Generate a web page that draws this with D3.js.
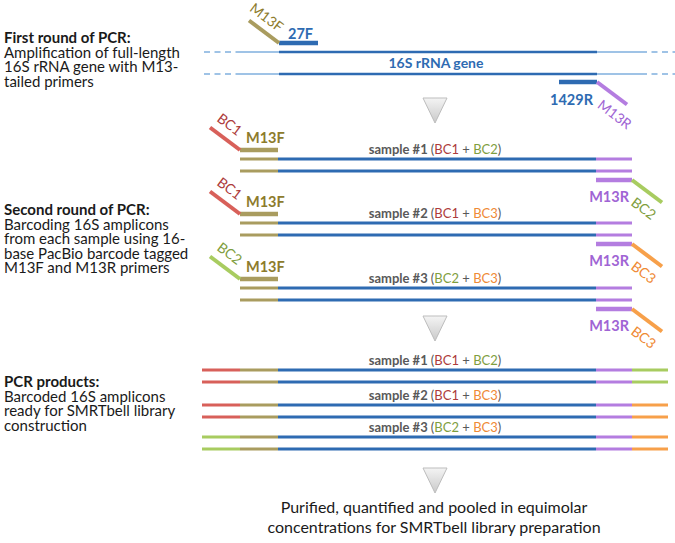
<!DOCTYPE html>
<html><head><meta charset="utf-8">
<script src="https://cdn.jsdelivr.net/npm/d3@7"></script>
<style>body{margin:0;background:#fff}svg{display:block}</style>
</head><body>
<script>
// ---------- data ----------
const stepTitles = ["First round of PCR:", "Second round of PCR:", "PCR products:"];
const stepTexts = [
  ["Amplification of full-length", "16S rRNA gene with M13-", "tailed primers"],
  ["Barcoding 16S amplicons", "from each sample using 16-", "base PacBio barcode tagged", "M13F and M13R primers"],
  ["Barcoded 16S amplicons", "ready for SMRTbell library", "construction"]
];
const samples = ["sample #1", "sample #2", "sample #3"];
const fwdBarcodes = ["BC1", "BC1", "BC2"];
const revBarcodes = ["BC2", "BC3", "BC3"];
const geneLabel = "16S rRNA gene";
const fwdPrimer = "27F", revPrimer = "1429R";
const fwdTail = "M13F", revTail = "M13R";
const footerLines = ["Purified, quantified and pooled in equimolar", "concentrations for SMRTbell library preparation"];
const bounds = ["bcStart", "m13FStart", "geneStart", "geneEnd", "m13REnd", "bcEnd"];

// ---------- styles ----------
const C = {
  blue: "#2e6bb2", lblue: "#9fc3e6", olive: "#a99c5f", oliveT: "#8d7b2c",
  purple: "#b47de0", purpleT: "#a064d4",
  BC1: "#d8605a", BC2: "#a8cc60", BC3: "#f7a04a",
  BC1T: "#ad3b3b", BC2T: "#7f9e3e", BC3T: "#ef8a35", grey: "#595959"
};
const FONT = "Lato, 'Open Sans', sans-serif";
const W = 675, H = 543;
const svg = d3.select("body").append("svg").attr("width", W).attr("height", H)
  .style("font-family", FONT);

const defs = svg.append("defs");
const g = defs.append("linearGradient").attr("id", "tri").attr("x1", 0).attr("y1", 0).attr("x2", 0).attr("y2", 1);
g.append("stop").attr("offset", "0%").attr("stop-color", "#f4f4f4");
g.append("stop").attr("offset", "100%").attr("stop-color", "#c9c9c9");

// x positions of segment boundaries
const x = d3.scaleOrdinal().domain(bounds).range([202, 240, 278, 596, 632, 668]);

function seg(x1, x2, y, color, w, dash) {
  const l = svg.append("line").attr("x1", x1).attr("x2", x2).attr("y1", y).attr("y2", y)
    .attr("stroke", color).attr("stroke-width", w);
  if (dash) l.attr("stroke-dasharray", dash);
  return l;
}
function tail(x0, y0, dir, color) {
  svg.append("line").attr("x1", x0).attr("y1", y0)
    .attr("x2", x0 + dir * 30).attr("y2", y0 + dir * 22.5)
    .attr("stroke", color).attr("stroke-width", 4);
}
function rotLabel(cx, cy, text, color, size) {
  svg.append("text").attr("transform", `translate(${cx},${cy}) rotate(37)`)
    .attr("text-anchor", "middle").attr("dominant-baseline", "central")
    .attr("font-size", size || 14).attr("fill", color).text(text);
}
function triangle(cx, ty) {
  svg.append("path").attr("d", `M${cx - 12},${ty}L${cx + 12},${ty}L${cx},${ty + 25}Z`)
    .attr("fill", "url(#tri)").attr("stroke", "#bdbdbd").attr("stroke-width", 1);
}
function sampleLabel(cx, y, i) {
  const t = svg.append("text").attr("x", cx).attr("y", y).attr("text-anchor", "middle")
    .attr("font-size", 13).attr("fill", C.grey);
  t.append("tspan").attr("font-weight", "bold").text(samples[i] + " ");
  t.append("tspan").text("(");
  t.append("tspan").attr("fill", C[fwdBarcodes[i] + "T"]).text(fwdBarcodes[i]);
  t.append("tspan").text(" + ");
  t.append("tspan").attr("fill", C[revBarcodes[i] + "T"]).text(revBarcodes[i]);
  t.append("tspan").text(")");
}

// ---------- left descriptions ----------
const stepY = [43, 215, 387];
stepTitles.forEach((title, i) => {
  const t = svg.append("text").attr("x", 4).attr("y", stepY[i]).attr("font-size", 15).attr("fill", "#1a1a1a");
  t.append("tspan").attr("x", 4).attr("font-weight", "bold").text(title);
  stepTexts[i].forEach((line, j) => t.append("tspan").attr("x", 4).attr("dy", 14.5).text(line));
});

// ---------- first round ----------
const gs = x("geneStart") + 1, ge = x("geneEnd") + 1;
[52, 74].forEach(y => {
  seg(204, 236, y, C.lblue, 2.2, "6,4.5");
  seg(236, gs, y, C.lblue, 2.2);
  seg(gs, ge, y, C.blue, 2.5);
  seg(ge, 641, y, C.lblue, 2.2);
  seg(641, 675, y, C.lblue, 2.2, "6,4.5");
});
seg(gs, gs + 39, 43, C.blue, 4.5);
tail(gs, 43, -1, C.olive);
rotLabel(gs - 12, 17, fwdTail, C.oliveT, 14);
svg.append("text").attr("x", gs + 9).attr("y", 39).attr("font-size", 14.5).attr("font-weight", "bold")
  .attr("fill", C.blue).text(fwdPrimer);
svg.append("text").attr("x", 436).attr("y", 68).attr("text-anchor", "middle").attr("font-size", 14)
  .attr("font-weight", "bold").attr("fill", C.blue).text(geneLabel);
seg(ge - 38, ge, 82, C.blue, 4.5);
tail(ge, 82, 1, C.purple);
rotLabel(ge + 18, 114, revTail, C.purpleT, 14);
svg.append("text").attr("x", ge - 4).attr("y", 105).attr("text-anchor", "end").attr("font-size", 14.5)
  .attr("font-weight", "bold").attr("fill", C.blue).text(revPrimer);

triangle(435, 98);

// ---------- second round ----------
const rowY = [159, 223, 288];
samples.forEach((s, i) => {
  const y = rowY[i];
  [y, y + 12].forEach(yy => {
    seg(x("m13FStart"), x("geneStart"), yy, C.olive, 2.8);
    seg(x("geneStart"), x("geneEnd"), yy, C.blue, 2.8);
    seg(x("geneEnd"), x("m13REnd"), yy, C.purple, 2.8);
  });
  const fy = y - 9;
  seg(x("m13FStart"), x("geneStart"), fy, C.olive, 4.5);
  tail(x("m13FStart"), fy, -1, C[fwdBarcodes[i]]);
  rotLabel(x("m13FStart") - 10, fy - 26, fwdBarcodes[i], C[fwdBarcodes[i] + "T"], 14);
  svg.append("text").attr("x", x("m13FStart") + 6).attr("y", fy - 7).attr("font-size", 14.5)
    .attr("font-weight", "bold").attr("fill", C.oliveT).text(fwdTail);
  sampleLabel(435, y - 5, i);
  const ry = y + 21;
  seg(x("geneEnd"), x("m13REnd"), ry, C.purple, 4.5);
  tail(x("m13REnd"), ry, 1, C[revBarcodes[i]]);
  rotLabel(x("m13REnd") + 12, ry + 28, revBarcodes[i], C[revBarcodes[i] + "T"], 14);
  svg.append("text").attr("x", x("m13REnd") - 3).attr("y", ry + 22).attr("text-anchor", "end")
    .attr("font-size", 14.5).attr("font-weight", "bold").attr("fill", C.purpleT).text(revTail);
});

triangle(435, 316);

// ---------- products ----------
const prodY = [370, 405, 437];
samples.forEach((s, i) => {
  const y = prodY[i];
  [y, y + 12].forEach(yy => {
    seg(x("bcStart"), x("m13FStart"), yy, C[fwdBarcodes[i]], 3);
    seg(x("m13FStart"), x("geneStart"), yy, C.olive, 3);
    seg(x("geneStart"), x("geneEnd"), yy, C.blue, 3);
    seg(x("geneEnd"), x("m13REnd"), yy, C.purple, 3);
    seg(x("m13REnd"), x("bcEnd"), yy, C[revBarcodes[i]], 3);
  });
  sampleLabel(435, y - 5, i);
});

triangle(435, 468);

// ---------- footer ----------
footerLines.forEach((line, i) => {
  svg.append("text").attr("x", 434).attr("y", 513 + i * 20).attr("text-anchor", "middle")
    .attr("font-size", 16).attr("fill", "#1a1a1a").text(line);
});
</script>
</body></html>
